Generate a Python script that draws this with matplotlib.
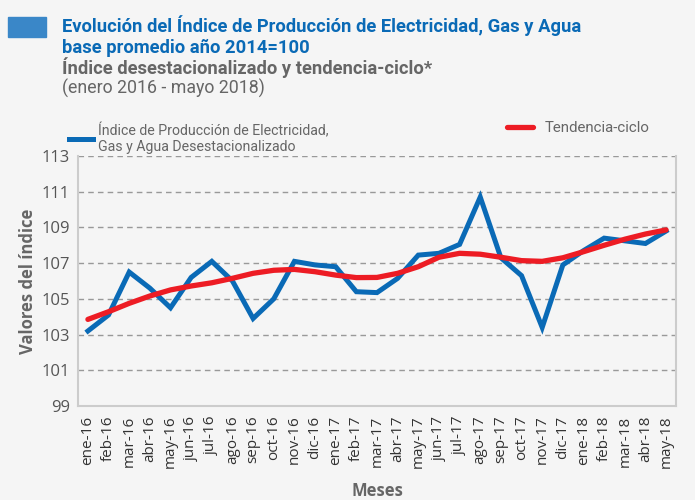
import matplotlib
matplotlib.use("Agg")
import matplotlib.pyplot as plt
from matplotlib.patches import Rectangle

meses = ["ene-16", "feb-16", "mar-16", "abr-16", "may-16", "jun-16", "jul-16",
         "ago-16", "sep-16", "oct-16", "nov-16", "dic-16", "ene-17", "feb-17",
         "mar-17", "abr-17", "may-17", "jun-17", "jul-17", "ago-17", "sep-17",
         "oct-17", "nov-17", "dic-17", "ene-18", "feb-18", "mar-18", "abr-18",
         "may-18"]
desest = [103.2, 104.1, 106.5, 105.6, 104.5, 106.2, 107.1, 106.0, 103.9, 105.0,
          107.1, 106.9, 106.8, 105.4, 105.35, 106.15, 107.45, 107.55, 108.05,
          110.7, 107.3, 106.3, 103.4, 106.9, 107.7, 108.4, 108.25, 108.1, 108.8]
tendencia = [103.85, 104.28, 104.75, 105.16, 105.5, 105.72, 105.9, 106.15,
             106.43, 106.6, 106.65, 106.52, 106.33, 106.19, 106.2, 106.43, 106.8,
             107.33, 107.55, 107.5, 107.33, 107.14, 107.1, 107.3, 107.64, 108.0,
             108.34, 108.63, 108.86]
yticks = [99, 101, 103, 105, 107, 109, 111, 113]

azul = "#0a6ab6"
rojo = "#ed1c24"
gris = "#666666"
fondo = "#f5f5f5"
cond = ["Roboto", "DejaVu Sans"]

fig = plt.figure(figsize=(6.95, 5), dpi=100, facecolor=fondo)
ax = fig.add_axes([78 / 695, 94 / 500, 598 / 695, 250 / 500], facecolor=fondo)

x = list(range(len(meses)))
l1, = ax.plot(x, desest, color=azul, lw=3.6, solid_joinstyle="miter", zorder=3)
l2, = ax.plot(x, tendencia, color=rojo, lw=3.8, solid_capstyle="round", zorder=4)

ax.set_xlim(-0.48, len(meses) - 0.52)
ax.set_ylim(99, 113)
ax.set_yticks(yticks)
ax.set_xticks(x)
ax.set_xticklabels(meses, rotation=90, fontsize=11, color="#333333")
ax.tick_params(axis="y", labelsize=12, colors="#555555", length=0, pad=6)
ax.tick_params(axis="x", length=0, pad=7)
for t in ax.get_xticklabels() + ax.get_yticklabels():
    t.set_family(["Open Sans", "DejaVu Sans"])
ax.grid(axis="y", color="#999999", ls=(0, (4, 3)), lw=1)
for s in ["left", "bottom", "right"]:
    ax.spines[s].set_color("#cccccc")
    ax.spines[s].set_linewidth(1.5)
ax.spines["top"].set_visible(False)

ax.set_ylabel("Valores del índice", fontsize=12, color=gris, fontweight="bold",
              family=["Open Sans", "DejaVu Sans"], labelpad=3)
ax.set_xlabel("Meses", fontsize=12, color=gris, fontweight="bold",
              family=["Open Sans", "DejaVu Sans"], labelpad=10)

leg1 = ax.legend([l1],
                 ["Índice de Producción de Electricidad,\nGas y Agua Desestacionalizado"],
                 loc="lower left", bbox_to_anchor=(-0.025, 0.985), frameon=False,
                 handlelength=1.7, handletextpad=0.4, borderaxespad=0,
                 prop={"family": cond, "size": 10.2}, labelcolor=gris,
                 labelspacing=0.2)
ax.add_artist(leg1)
ax.legend([l2], ["Tendencia-ciclo"],
          loc="lower left", bbox_to_anchor=(0.708, 1.06), frameon=False,
          handlelength=1.7, handletextpad=0.8, borderaxespad=0,
          prop={"family": cond, "size": 10.8}, labelcolor=gris)

fig.patches.append(Rectangle((8 / 695, 1 - 37 / 500), 38 / 695, 20 / 500,
                             transform=fig.transFigure, color="#3a87c8"))
fig.text(62 / 695, 1 - 32 / 500,
         "Evolución del Índice de Producción de Electricidad, Gas y Agua",
         color=azul, fontsize=13.2, fontweight="bold", family=cond, va="baseline")
fig.text(62 / 695, 1 - 53 / 500, "base promedio año 2014=100",
         color=azul, fontsize=13.2, fontweight="bold", family=cond, va="baseline")
fig.text(62 / 695, 1 - 74 / 500, "Índice desestacionalizado y tendencia-ciclo*",
         color=gris, fontsize=13.2, fontweight="bold", family=cond, va="baseline")
fig.text(62 / 695, 1 - 94 / 500, "(enero 2016 - mayo 2018)",
         color=gris, fontsize=12.8, family=cond, va="baseline")

fig.savefig("out.png", dpi=100, facecolor=fondo)
